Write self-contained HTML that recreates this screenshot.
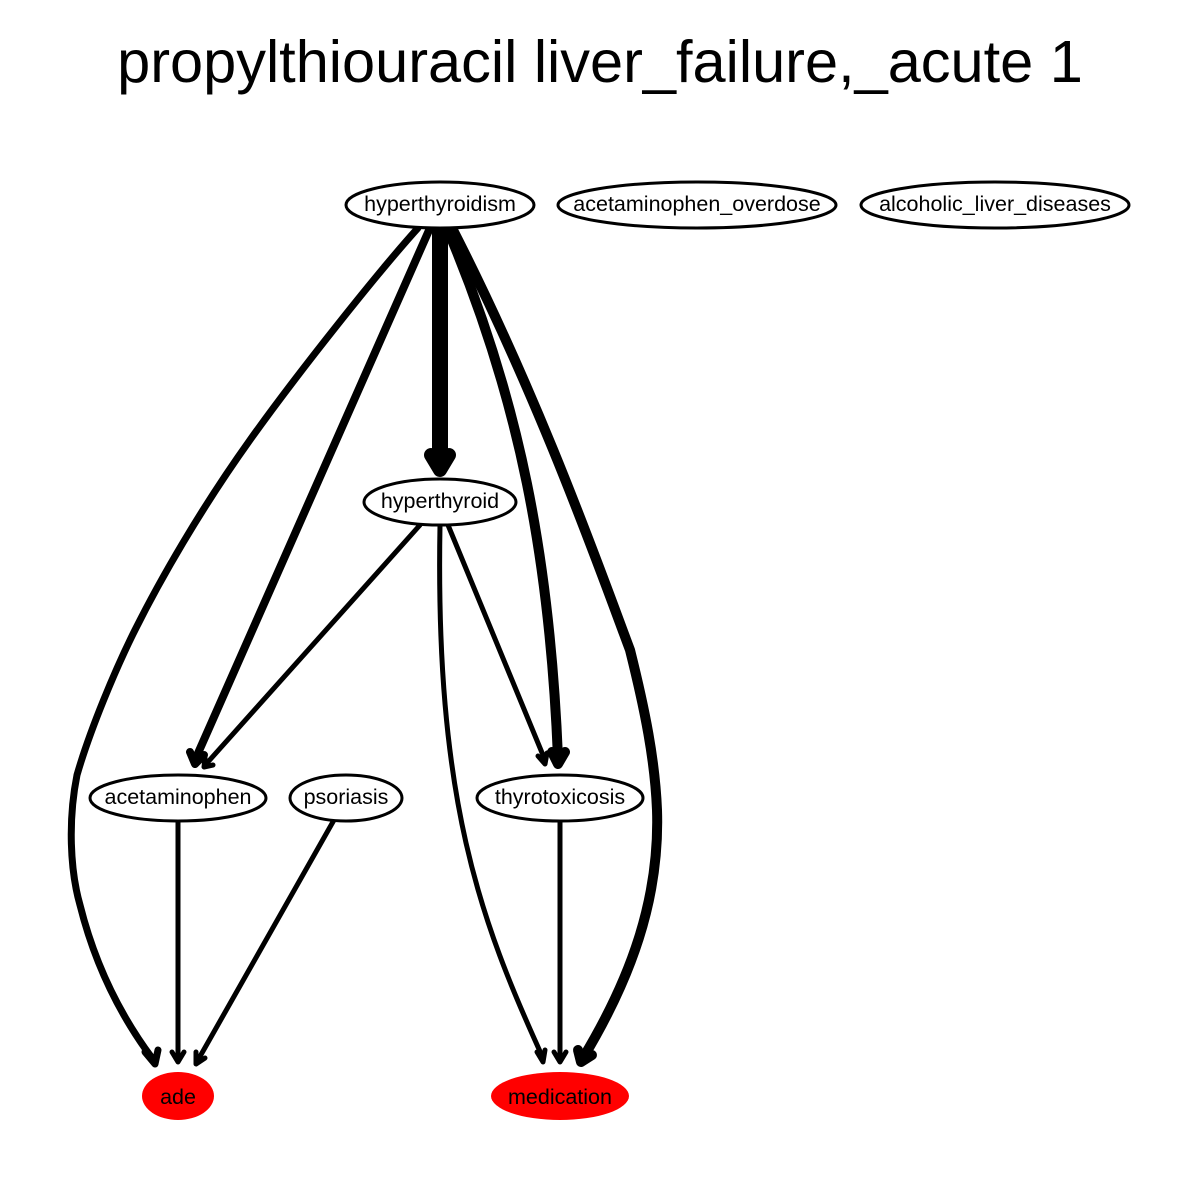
<!DOCTYPE html>
<html><head><meta charset="utf-8"><style>html,body{margin:0;padding:0;background:#fff}svg{display:block}</style></head>
<body>
<svg width="1200" height="1200" viewBox="0 0 1200 1200" xmlns="http://www.w3.org/2000/svg" font-family="Liberation Sans, sans-serif">
<rect width="1200" height="1200" fill="#fff"/>
<text x="600" y="82" font-size="59.5" text-anchor="middle">propylthiouracil liver_failure,_acute 1</text>
<g fill="none" stroke="#000" stroke-linecap="round" stroke-linejoin="round">
<path d="M418,228 C380,270 300,370 250,440 C200,510 160,580 135,630 C115,670 90,730 77,775 C68,820 70,870 80,905 C95,965 120,1015 152,1058" stroke-width="7"/>
<path d="M430,228 L195,760" stroke-width="8"/>
<path d="M440,228 L440,458" stroke-width="16"/>
<path d="M447,228 C520,400 550,560 558,758" stroke-width="10"/>
<path d="M452,228 C540,400 600,570 630,650 C645,710 655,760 657,810 C660,900 630,980 583,1058" stroke-width="10"/>
<path d="M420,525 L207,763" stroke-width="5"/>
<path d="M440,525 C435,800 480,920 543,1058" stroke-width="5"/>
<path d="M448,525 L545,760" stroke-width="5"/>
<path d="M178,822 L178,1058" stroke-width="5"/>
<path d="M334,820 L198,1060" stroke-width="5"/>
<path d="M560,822 L560,1058" stroke-width="5"/>
<path d="M145,1052 L155,1064 L158,1050" stroke-width="7"/>
<path d="M190,752 L195,764 L204,755" stroke-width="8"/>
<path d="M431,455 L440,470 L449,455" stroke-width="14"/>
<path d="M552,752 L558,764 L565,752" stroke-width="10"/>
<path d="M578,1050 L581,1062 L592,1055" stroke-width="10"/>
<path d="M205,758 L204,767 L213,765" stroke-width="5"/>
<path d="M537,1052 L543,1062 L545,1050" stroke-width="5"/>
<path d="M538,756 L545,764 L547,753" stroke-width="5"/>
<path d="M172,1052 L178,1062 L184,1052" stroke-width="5"/>
<path d="M196,1052 L196,1064 L205,1058" stroke-width="5"/>
<path d="M554,1052 L560,1062 L566,1052" stroke-width="5"/>
</g>
<g stroke="#000" stroke-width="3" fill="#fff">
<ellipse cx="440" cy="205" rx="94" ry="23"/>
<ellipse cx="697" cy="205" rx="139" ry="23"/>
<ellipse cx="995" cy="205" rx="134" ry="23"/>
<ellipse cx="440" cy="502" rx="76" ry="23"/>
<ellipse cx="178" cy="798" rx="88" ry="23"/>
<ellipse cx="346" cy="798" rx="56" ry="23"/>
<ellipse cx="560" cy="798" rx="83" ry="23"/>
</g>
<ellipse cx="178" cy="1096" rx="36" ry="24" fill="#f00"/>
<ellipse cx="560" cy="1096" rx="69" ry="24" fill="#f00"/>
<g font-size="21.5" text-anchor="middle">
<text x="440" y="211">hyperthyroidism</text>
<text x="697" y="211">acetaminophen_overdose</text>
<text x="995" y="211">alcoholic_liver_diseases</text>
<text x="440" y="508">hyperthyroid</text>
<text x="178" y="804">acetaminophen</text>
<text x="346" y="804">psoriasis</text>
<text x="560" y="804">thyrotoxicosis</text>
<text x="178" y="1104">ade</text>
<text x="560" y="1104">medication</text>
</g>
</svg>
</body></html>
